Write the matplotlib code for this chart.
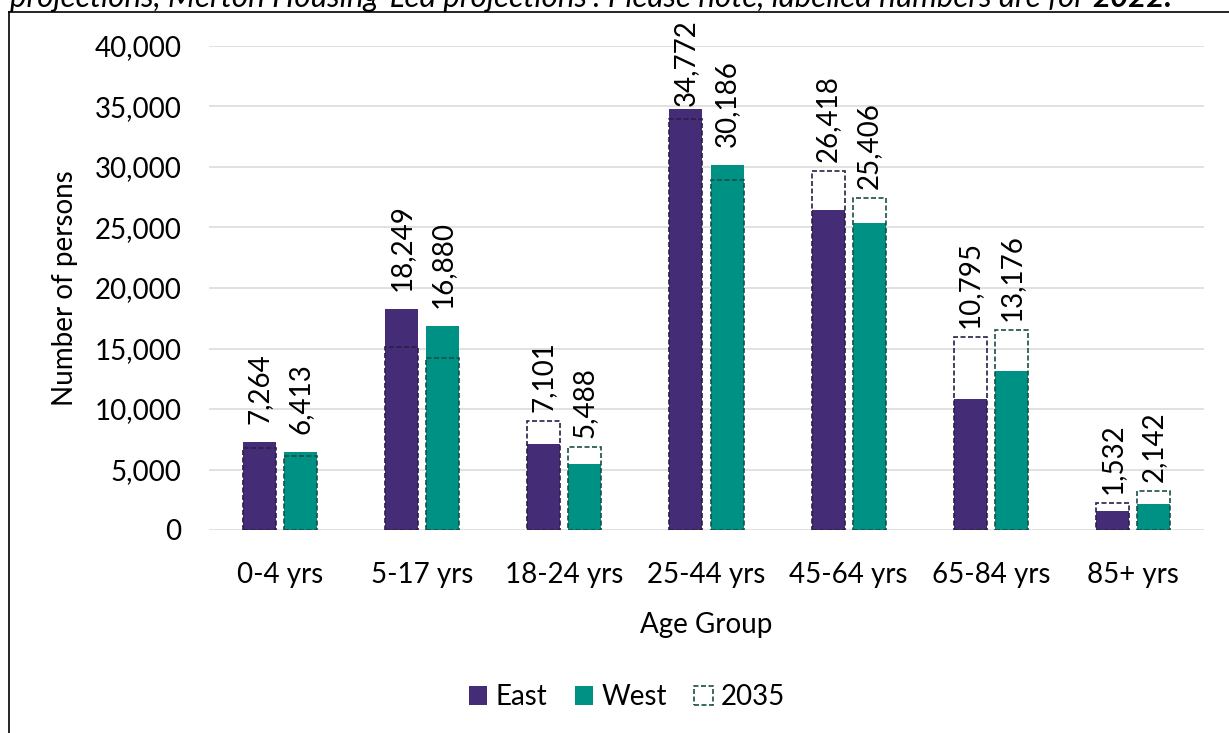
import matplotlib.pyplot as plt
import numpy as np
from matplotlib.patches import Patch
from matplotlib.lines import Line2D
from matplotlib.ticker import FuncFormatter

plt.rcParams['font.family'] = ['Lato', 'DejaVu Sans']

age_groups = ['0-4 yrs', '5-17 yrs', '18-24 yrs', '25-44 yrs', '45-64 yrs', '65-84 yrs', '85+ yrs']
east_2022 = [7264, 18249, 7101, 34772, 26418, 10795, 1532]
west_2022 = [6413, 16880, 5488, 30186, 25406, 13176, 2142]
east_2035 = [6750, 15150, 9000, 33950, 29650, 15950, 2200]
west_2035 = [6100, 14200, 6850, 28900, 27400, 16550, 3200]

purple = '#442c76'
teal = '#009185'
purple_dash = '#2a1f45'
teal_dash = '#1d4d48'

fig = plt.figure(figsize=(12.29, 7.33), dpi=100)
ax = fig.add_axes([209 / 1229, 1 - 530 / 733, 995 / 1229, 484 / 733])

x = np.arange(len(age_groups))
w = 0.232
off = 0.145

ax.bar(x - off, east_2022, w, color=purple, zorder=2)
ax.bar(x + off, west_2022, w, color=teal, zorder=2)
ax.bar(x - off, east_2035, w, fill=False, edgecolor=purple_dash, linestyle=(0, (3, 1.5)),
       linewidth=1.2, zorder=3)
ax.bar(x + off, west_2035, w, fill=False, edgecolor=teal_dash, linestyle=(0, (3, 1.5)),
       linewidth=1.2, zorder=3)

# labels for 2022 values, placed above the taller of the two bars
for xs, v22, v35 in [(x - off, east_2022, east_2035), (x + off, west_2022, west_2035)]:
    for xi, a, b in zip(xs, v22, v35):
        y = a + 1500 if a >= b else b + 750
        y = min(y, 35000)
        ax.text(xi, y, f'{a:,}', rotation=90, ha='center', va='bottom', fontsize=20)

ax.set_xlim(-0.5, len(age_groups) - 0.5)
ax.set_ylim(0, 40000)
ax.set_yticks(range(0, 40001, 5000))
ax.yaxis.set_major_formatter(FuncFormatter(lambda v, p: f'{int(v):,}'))
ax.set_xticks(x)
ax.set_xticklabels(age_groups)
ax.tick_params(axis='both', length=0, labelsize=20)
ax.tick_params(axis='x', pad=23)
ax.tick_params(axis='y', pad=20)
ax.grid(axis='y', color='#d9d9d9', linewidth=1.1, zorder=0)
ax.set_axisbelow(True)
for s in ax.spines.values():
    s.set_visible(False)

ax.set_xlabel('Age Group', fontsize=20, labelpad=17)
ax.set_ylabel('Number of persons', fontsize=20, labelpad=12)

handles = [Patch(facecolor=purple, label='East'),
           Patch(facecolor=teal, label='West'),
           Patch(facecolor='white', edgecolor=teal_dash, linestyle=(0, (3, 1.5)),
                 linewidth=1.2, label='2035')]
fig.legend(handles=handles, loc='center', bbox_to_anchor=(627 / 1229, 1 - 697 / 733), ncol=3,
           frameon=False, fontsize=20, handlelength=0.65, handleheight=0.65,
           handletextpad=0.3, columnspacing=1.0)

# frame of the surrounding document box
fig.add_artist(Line2D([9 / 1229, 1], [1 - 12 / 733, 1 - 12 / 733], color='black', linewidth=1.2))
fig.add_artist(Line2D([9 / 1229, 9 / 1229], [0, 1 - 12 / 733], color='black', linewidth=1.2))

# caption cut off by the top of the image
t1 = fig.text(10 / 1229, 1 - 7 / 733,
              "projections, Merton Housing-Led projections'. Please note, labelled numbers are for ",
              fontsize=22.5, style='italic', ha='left', va='baseline')
fig.canvas.draw()
ax.annotate('2022.', xy=(1, 0), xycoords=t1, ha='left', va='bottom',
            fontsize=22.5, style='italic', fontweight='bold', annotation_clip=False)

fig.savefig('out.png', dpi=100)
